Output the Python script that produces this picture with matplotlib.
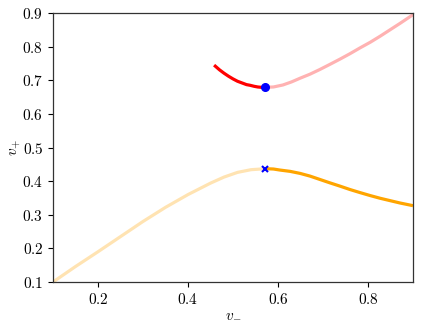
import matplotlib
matplotlib.use("Agg")
import matplotlib.pyplot as plt
from matplotlib.ticker import FuncFormatter

plt.rcParams['mathtext.fontset'] = 'cm'
plt.rcParams['font.family'] = 'serif'
plt.rcParams['font.serif'] = ['DejaVu Serif']

# upper branch (v_+ large)
red_dark_x = [0.458, 0.47, 0.48, 0.49, 0.50, 0.51, 0.52, 0.53, 0.538, 0.547, 0.555, 0.563, 0.571]
red_dark_y = [0.745, 0.731, 0.721, 0.712, 0.704, 0.697, 0.692, 0.687, 0.685, 0.682, 0.680, 0.679, 0.679]
red_light_x = [0.571, 0.59, 0.611, 0.63, 0.649, 0.671, 0.693, 0.715, 0.738, 0.760, 0.782, 0.805, 0.827, 0.849, 0.871, 0.9, 0.91]
red_light_y = [0.679, 0.680, 0.686, 0.695, 0.706, 0.718, 0.732, 0.747, 0.763, 0.779, 0.796, 0.813, 0.831, 0.850, 0.869, 0.895, 0.904]

# lower branch
orange_light_x = [0.1, 0.15, 0.2, 0.25, 0.3, 0.35, 0.4, 0.45, 0.48, 0.51, 0.54, 0.573]
orange_light_y = [0.1, 0.146, 0.19, 0.235, 0.280, 0.322, 0.360, 0.394, 0.412, 0.426, 0.434, 0.437]
orange_dark_x = [0.573, 0.59, 0.604, 0.627, 0.649, 0.671, 0.693, 0.715, 0.738, 0.760, 0.782, 0.805, 0.827, 0.849, 0.871, 0.9]
orange_dark_y = [0.437, 0.436, 0.433, 0.429, 0.423, 0.415, 0.405, 0.395, 0.385, 0.375, 0.366, 0.357, 0.349, 0.342, 0.335, 0.327]

dot_x, dot_y = 0.571, 0.679
cross_x, cross_y = 0.572, 0.436

xticks = [0.2, 0.4, 0.6, 0.8]
yticks = [0.1, 0.2, 0.3, 0.4, 0.5, 0.6, 0.7, 0.8, 0.9]

fig = plt.figure(figsize=(4.21, 3.29), dpi=100)
ax = fig.add_axes([53/421, 1 - 282/329, 360/421, 269/329])

lw = 2.3
ax.plot(red_light_x, red_light_y, color='red', alpha=0.3, lw=lw, solid_capstyle='butt')
ax.plot(red_dark_x, red_dark_y, color='red', lw=lw, solid_capstyle='butt')
ax.plot(orange_light_x, orange_light_y, color='orange', alpha=0.3, lw=lw, solid_capstyle='butt')
ax.plot(orange_dark_x, orange_dark_y, color='orange', lw=lw, solid_capstyle='butt')
ax.plot([dot_x], [dot_y], 'o', color='blue', ms=5.5)
ax.plot([cross_x], [cross_y], 'x', color='blue', ms=5, mew=1.5)

ax.set_xlim(0.1, 0.9)
ax.set_ylim(0.1, 0.9)
ax.set_xticks(xticks)
ax.set_yticks(yticks)
fmt = FuncFormatter(lambda v, p: r'$%.1f$' % v)
ax.xaxis.set_major_formatter(fmt)
ax.yaxis.set_major_formatter(fmt)
ax.tick_params(labelsize=11, length=3.5, width=0.8)
for s in ax.spines.values():
    s.set_linewidth(0.9)
    s.set_color('#333333')
ax.set_xlabel(r'$v_{-}$', fontsize=11, labelpad=0.5)
ax.set_ylabel(r'$v_{+}$', fontsize=11, labelpad=-0.5)

fig.savefig('out.png', dpi=100)
